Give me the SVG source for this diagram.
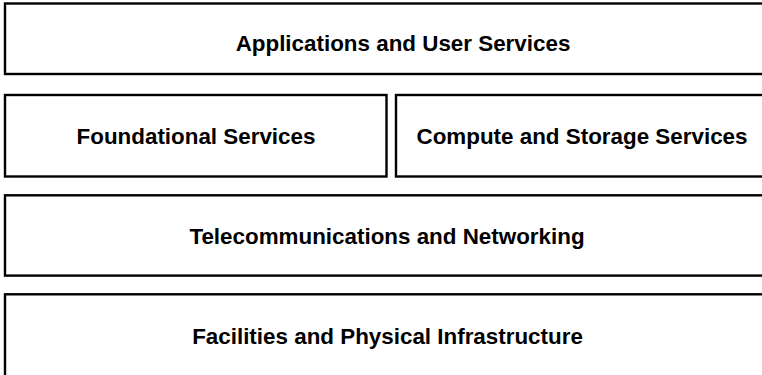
<svg xmlns="http://www.w3.org/2000/svg" width="762" height="375" viewBox="0 0 762 375">
  <style>
    .box { fill: #ffffff; stroke: #000000; stroke-width: 2.4; }
    .label { font-family: "Liberation Sans", Arial, sans-serif; font-size: 22.4px; font-weight: bold; fill: #000000; text-anchor: middle; }
  </style>
  <rect width="762" height="375" fill="#ffffff"/>
  <g id="applications">
    <rect class="box" x="5" y="3.5" width="800" height="70.5"/>
    <text class="label" x="403" y="50.7">Applications and User Services</text>
  </g>
  <g id="foundational">
    <rect class="box" x="5" y="95" width="381.5" height="81.5"/>
    <text class="label" x="196" y="144">Foundational Services</text>
  </g>
  <g id="compute-storage">
    <rect class="box" x="396" y="95" width="375" height="81.5"/>
    <text class="label" x="582" y="144">Compute and Storage Services</text>
  </g>
  <g id="telecom">
    <rect class="box" x="5" y="195.3" width="766" height="80.3"/>
    <text class="label" x="387" y="243.5">Telecommunications and Networking</text>
  </g>
  <g id="facilities">
    <rect class="box" x="5" y="294.3" width="766" height="90"/>
    <text class="label" x="387.5" y="344">Facilities and Physical Infrastructure</text>
  </g>
  <g id="connectors"/>
</svg>
